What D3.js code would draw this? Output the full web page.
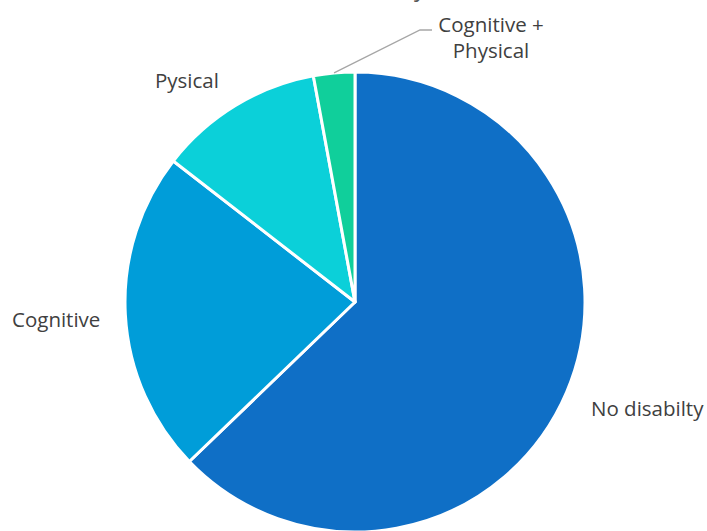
<!DOCTYPE html>
<html>
<head>
<meta charset="utf-8">
<script src="https://cdn.jsdelivr.net/npm/d3@7"></script>
<style>
  html, body { margin: 0; padding: 0; background: #fff; }
  svg { display: block; }
</style>
</head>
<body>
<script>
const categories = ["No disabilty", "Cognitive", "Pysical", "Cognitive + Physical"];
const values = [62.8, 22.7, 11.6, 2.9];
const colors = ["#0F6FC6", "#009DD9", "#0BD0D9", "#10CF9B"];
const titleText = "Disability";

const W = 707, H = 531;
const cx = 355, cy = 302, R = 230;

const svg = d3.select("body").append("svg").attr("width", W).attr("height", H);

// title (mostly clipped off the top in the reference)
svg.append("text")
  .attr("x", 426).attr("y", -4)
  .attr("text-anchor", "end")
  .attr("font-family", "'Open Sans', sans-serif")
  .attr("font-size", 24)
  .attr("fill", "#595959")
  .text(titleText);

const data = categories.map((c, i) => ({ cat: c, value: values[i], color: colors[i] }));

const pie = d3.pie().value(d => d.value).sort(null);
const arc = d3.arc().innerRadius(0).outerRadius(R);
const arcs = pie(data);

const g = svg.append("g").attr("transform", `translate(${cx},${cy})`);
g.selectAll("path").data(arcs).join("path")
  .attr("d", arc)
  .attr("fill", d => d.data.color)
  .attr("stroke", "#fff")
  .attr("stroke-width", 3)
  .attr("stroke-linejoin", "round");

// label layout (text placement, relative to the pie centre)
const labelLayout = {
  "No disabilty": { lines: ["No disabilty"], x: 236, y: 114, anchor: "start" },
  "Cognitive": { lines: ["Cognitive"], x: -343, y: 25, anchor: "start" },
  "Pysical": { lines: ["Pysical"], x: -200, y: -214, anchor: "start" },
  "Cognitive + Physical": { lines: ["Cognitive +", "Physical"], x: 136, y: -270, anchor: "middle", leader: true }
};

const fontSize = 20.5;
arcs.forEach(a => {
  const L = labelLayout[a.data.cat];
  const t = g.append("text")
    .attr("x", L.x).attr("y", L.y)
    .attr("text-anchor", L.anchor)
    .attr("font-family", "'Open Sans', sans-serif")
    .attr("font-size", fontSize)
    .attr("fill", "#404040");
  L.lines.forEach((ln, i) => {
    t.append("tspan").attr("x", L.x).attr("dy", i === 0 ? 0 : 26).text(ln);
  });
  if (L.leader) {
    const mid = (a.startAngle + a.endAngle) / 2;
    const px = Math.sin(mid) * R, py = -Math.cos(mid) * R;
    g.append("polyline")
      .attr("points", [[px, py], [65, -272], [77, -272]].map(p => p.join(",")).join(" "))
      .attr("fill", "none")
      .attr("stroke", "#A6A6A6")
      .attr("stroke-width", 1.3);
  }
});
</script>
</body>
</html>
